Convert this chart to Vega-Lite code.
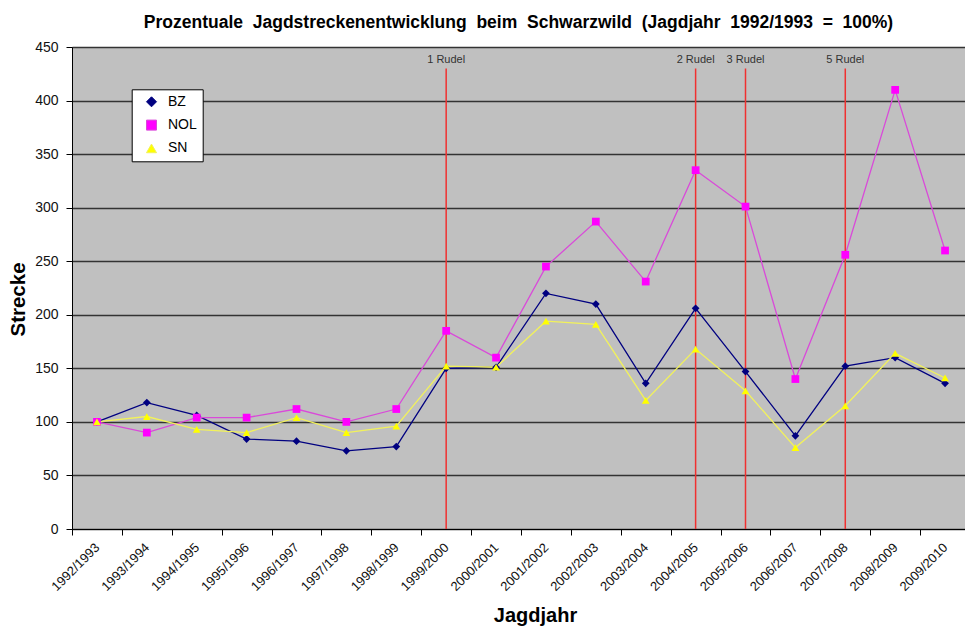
{
  "$schema": "https://vega.github.io/schema/vega-lite/v6.json",
  "width": 893,
  "height": 482,
  "autosize": {"type": "none"},
  "padding": {"left": 72, "top": 47, "right": 0, "bottom": 100},
  "title": {
    "text": "Prozentuale\u00a0 Jagdstreckenentwicklung\u00a0 beim\u00a0 Schwarzwild\u00a0 (Jagdjahr\u00a0 1992/1993\u00a0 =\u00a0 100%)",
    "font": "Liberation Sans",
    "fontSize": 17.5,
    "fontWeight": "bold",
    "color": "black",
    "anchor": "middle",
    "offset": 9
  },
  "config": {
    "view": {"fill": "#c0c0c0", "stroke": "#808080"},
    "font": "Liberation Sans"
  },
  "datasets": {
    "serien": [
      {"jahr": "1992/1993", "serie": "BZ", "wert": 100},
      {"jahr": "1993/1994", "serie": "BZ", "wert": 118},
      {"jahr": "1994/1995", "serie": "BZ", "wert": 106},
      {"jahr": "1995/1996", "serie": "BZ", "wert": 84},
      {"jahr": "1996/1997", "serie": "BZ", "wert": 82},
      {"jahr": "1997/1998", "serie": "BZ", "wert": 73},
      {"jahr": "1998/1999", "serie": "BZ", "wert": 77},
      {"jahr": "1999/2000", "serie": "BZ", "wert": 150},
      {"jahr": "2000/2001", "serie": "BZ", "wert": 151},
      {"jahr": "2001/2002", "serie": "BZ", "wert": 220},
      {"jahr": "2002/2003", "serie": "BZ", "wert": 210},
      {"jahr": "2003/2004", "serie": "BZ", "wert": 136},
      {"jahr": "2004/2005", "serie": "BZ", "wert": 206},
      {"jahr": "2005/2006", "serie": "BZ", "wert": 147},
      {"jahr": "2006/2007", "serie": "BZ", "wert": 87},
      {"jahr": "2007/2008", "serie": "BZ", "wert": 152},
      {"jahr": "2008/2009", "serie": "BZ", "wert": 160},
      {"jahr": "2009/2010", "serie": "BZ", "wert": 136},
      {"jahr": "1992/1993", "serie": "NOL", "wert": 100},
      {"jahr": "1993/1994", "serie": "NOL", "wert": 90},
      {"jahr": "1994/1995", "serie": "NOL", "wert": 104},
      {"jahr": "1995/1996", "serie": "NOL", "wert": 104},
      {"jahr": "1996/1997", "serie": "NOL", "wert": 112},
      {"jahr": "1997/1998", "serie": "NOL", "wert": 100},
      {"jahr": "1998/1999", "serie": "NOL", "wert": 112},
      {"jahr": "1999/2000", "serie": "NOL", "wert": 185},
      {"jahr": "2000/2001", "serie": "NOL", "wert": 160},
      {"jahr": "2001/2002", "serie": "NOL", "wert": 245},
      {"jahr": "2002/2003", "serie": "NOL", "wert": 287},
      {"jahr": "2003/2004", "serie": "NOL", "wert": 231},
      {"jahr": "2004/2005", "serie": "NOL", "wert": 335},
      {"jahr": "2005/2006", "serie": "NOL", "wert": 301},
      {"jahr": "2006/2007", "serie": "NOL", "wert": 140},
      {"jahr": "2007/2008", "serie": "NOL", "wert": 256},
      {"jahr": "2008/2009", "serie": "NOL", "wert": 410},
      {"jahr": "2009/2010", "serie": "NOL", "wert": 260},
      {"jahr": "1992/1993", "serie": "SN", "wert": 100},
      {"jahr": "1993/1994", "serie": "SN", "wert": 105},
      {"jahr": "1994/1995", "serie": "SN", "wert": 93},
      {"jahr": "1995/1996", "serie": "SN", "wert": 90},
      {"jahr": "1996/1997", "serie": "SN", "wert": 104},
      {"jahr": "1997/1998", "serie": "SN", "wert": 90},
      {"jahr": "1998/1999", "serie": "SN", "wert": 96},
      {"jahr": "1999/2000", "serie": "SN", "wert": 152},
      {"jahr": "2000/2001", "serie": "SN", "wert": 151},
      {"jahr": "2001/2002", "serie": "SN", "wert": 194},
      {"jahr": "2002/2003", "serie": "SN", "wert": 191},
      {"jahr": "2003/2004", "serie": "SN", "wert": 120},
      {"jahr": "2004/2005", "serie": "SN", "wert": 168},
      {"jahr": "2005/2006", "serie": "SN", "wert": 129},
      {"jahr": "2006/2007", "serie": "SN", "wert": 76},
      {"jahr": "2007/2008", "serie": "SN", "wert": 115},
      {"jahr": "2008/2009", "serie": "SN", "wert": 164},
      {"jahr": "2009/2010", "serie": "SN", "wert": 141}
    ],
    "rudel": [
      {"jahr": "1999/2000", "label": "1 Rudel", "von": 0, "bis": 430, "texty": 438},
      {"jahr": "2004/2005", "label": "2 Rudel", "von": 0, "bis": 430, "texty": 438},
      {"jahr": "2005/2006", "label": "3 Rudel", "von": 0, "bis": 430, "texty": 438},
      {"jahr": "2007/2008", "label": "5 Rudel", "von": 0, "bis": 430, "texty": 438}
    ]
  },
  "encoding": {
    "x": {
      "field": "jahr",
      "type": "ordinal",
      "sort": ["1992/1993","1993/1994","1994/1995","1995/1996","1996/1997","1997/1998","1998/1999","1999/2000","2000/2001","2001/2002","2002/2003","2003/2004","2004/2005","2005/2006","2006/2007","2007/2008","2008/2009","2009/2010"],
      "scale": {"type": "band", "paddingInner": 0, "paddingOuter": 0, "range": [0, 898]},
      "axis": {
        "title": "Jagdjahr",
        "titleFont": "Liberation Sans",
        "titleFontSize": 20,
        "titleFontWeight": "bold",
        "titleColor": "black",
        "titleX": 463,
        "titleY": 92,
        "titleAlign": "center",
        "titleBaseline": "alphabetic",
        "labelAngle": -45,
        "labelAlign": "right",
        "labelBaseline": "middle",
        "labelFontSize": 13,
        "labelColor": "#111111",
        "labelPadding": 10,
        "tickBand": "extent",
        "tickColor": "black",
        "tickSize": 6,
        "domainColor": "black",
        "grid": false
      }
    }
  },
  "layer": [
    {
      "data": {"name": "rudel"},
      "mark": {"type": "rule", "color": "#f03030", "strokeWidth": 1.5},
      "encoding": {
        "y": {"field": "von", "type": "quantitative"},
        "y2": {"field": "bis"}
      }
    },
    {
      "data": {"name": "rudel"},
      "mark": {"type": "text", "fontSize": 11, "color": "#333333", "font": "Liberation Sans"},
      "encoding": {
        "y": {"field": "texty", "type": "quantitative"},
        "text": {"field": "label"}
      }
    },
    {
      "data": {"name": "serien"},
      "mark": {"type": "line", "strokeWidth": 1.3},
      "encoding": {
        "y": {
          "field": "wert",
          "type": "quantitative",
          "scale": {"domain": [0, 450], "nice": false},
          "axis": {
            "title": "Strecke",
            "titleFont": "Liberation Sans",
            "titleFontSize": 20.5,
            "titleFontWeight": "bold",
            "titleColor": "black",
            "titleAngle": -90,
            "titleX": -54,
            "titleY": 252,
            "titleAlign": "center",
            "titleBaseline": "middle",
            "values": [0, 50, 100, 150, 200, 250, 300, 350, 400, 450],
            "labelFontSize": 14,
            "labelColor": "#111111",
            "labelPadding": 8,
            "tickColor": "black",
            "tickSize": 6,
            "domainColor": "black",
            "gridColor": "#333333",
            "gridWidth": 1.5,
            "gridOpacity": 1
          }
        },
        "stroke": {
          "field": "serie",
          "type": "nominal",
          "scale": {"domain": ["BZ", "NOL", "SN"], "range": ["#000080", "#d94ad9", "#f2f25a"]},
          "legend": {
            "orient": "none",
            "legendX": 59.7,
            "legendY": 42.3,
            "title": null,
            "fillColor": "white",
            "strokeColor": "black",
            "padding": 5.5,
            "symbolSize": 100,
            "symbolOffset": 7.3,
            "symbolStrokeWidth": 1,
            "labelFontSize": 14,
            "labelFont": "Liberation Sans",
            "labelColor": "black",
            "rowPadding": 9.3,
            "labelOffset": 9.5
          }
        }
      }
    },
    {
      "data": {"name": "serien"},
      "mark": {"type": "point", "filled": true, "opacity": 1},
      "encoding": {
        "y": {"field": "wert", "type": "quantitative"},
        "fill": {
          "field": "serie",
          "type": "nominal",
          "scale": {"domain": ["BZ", "NOL", "SN"], "range": ["#000080", "#ff00ff", "#ffff00"]},
          "legend": null
        },
        "shape": {
          "field": "serie",
          "type": "nominal",
          "scale": {"domain": ["BZ", "NOL", "SN"], "range": ["diamond", "square", "triangle-up"]},
          "legend": null
        },
        "size": {"value": 60}
      }
    }
  ]
}
